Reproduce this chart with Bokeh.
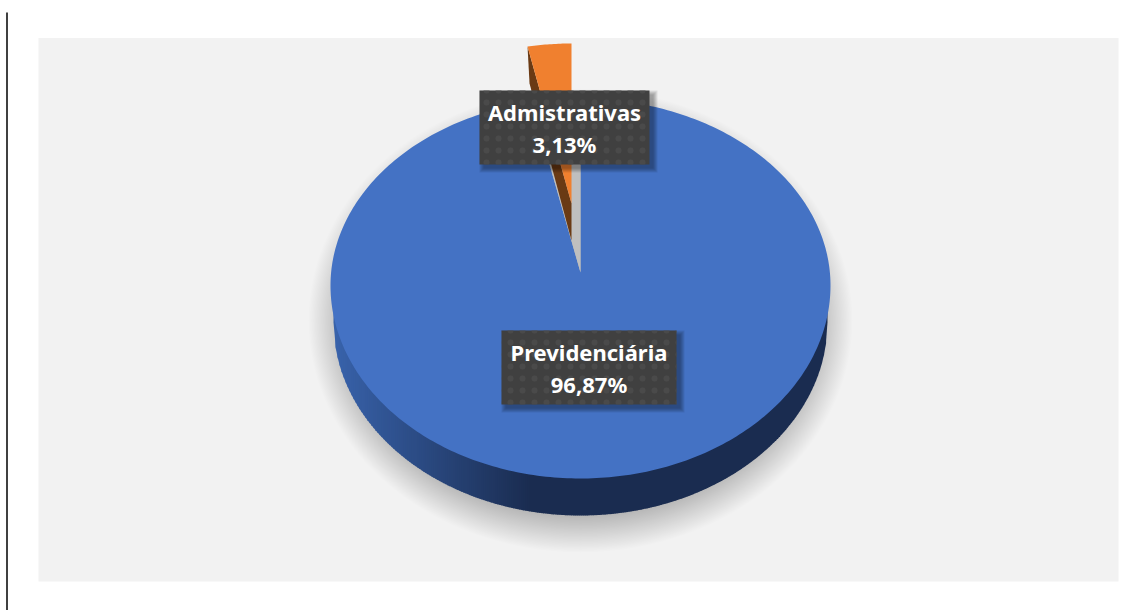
import math
from bokeh.plotting import figure
from bokeh.models import Range1d
from bokeh.core.properties import value
from bokeh.embed import file_html
from bokeh.resources import INLINE

# data
categories = ["Previdenciária", "Admistrativas"]
shares = [96.87, 3.13]
share_labels = ["96,87%", "3,13%"]
colors = ["#4472C4", "#F0802F"]

W, H = 1139, 610
p = figure(width=W, height=H, output_backend="svg", toolbar_location=None,
           x_range=Range1d(0, W), y_range=Range1d(H, 0), min_border=0,
           outline_line_color=None, background_fill_color="white", border_fill_color="white")
p.axis.visible = False
p.grid.visible = False
p.styles = {"position": "absolute", "left": "0px", "top": "0px"}

# frame
p.segment([6.5], [12], [6.5], [610], line_color="black", line_width=1.5)
p.quad(left=[38], right=[1118], top=[37.5], bottom=[581], fill_color="#F2F2F2", line_color=None)

# layout of the pie
cx, cy, rx, ry_up, ry_down = 580, 285, 250, 187, 193
apex_y = 272
depth = 37
wedge = shares[1] / 100 * 2 * math.pi


def ring(a0, a1, ccx, ccy, arx, up, down, n=360):
    xs, ys = [], []
    for i in range(n + 1):
        a = a0 + (a1 - a0) * i / n
        xs.append(ccx + arx * math.sin(a))
        c = math.cos(a)
        ys.append(ccy - (up if c > 0 else down) * c)
    return xs, ys


# soft shadow under the pie
layers = 30
for i in range(layers):
    t = i / (layers - 1)
    p.ellipse(x=[580], y=[320], width=[2 * (272 - 36 * t)], height=[2 * (232 - 36 * t)],
              fill_color="black", fill_alpha=0.0085, line_color=None)

# side wall with a left-to-right shade
low_cy, low_rx, low_ry = 322, 247, 193
c0, c1 = (0x38, 0x62, 0xAA), (0x1A, 0x2C, 0x50)


def low_y(x):
    u = max(0.0, 1 - ((x - cx) / low_rx) ** 2)
    return low_cy + low_ry * math.sqrt(u)


wx, wy, wc = [], [], []
x = cx - low_rx
while x < cx + low_rx:
    x2 = min(x + 2.6, cx + low_rx)
    t = min(1.0, max(0.0, (x + 1 - 335) / 195))
    wx.append([x, x2, x2, x])
    wy.append([cy, cy, low_y(x2), low_y(x)])
    wc.append("#%02x%02x%02x" % tuple(round(a + (b - a) * t) for a, b in zip(c0, c1)))
    x += 2
p.patches(xs=wx, ys=wy, fill_color=wc, line_color=None)

# top face of the main slice
bx, by = ring(0, 2 * math.pi - wedge, cx, cy, rx, ry_up, ry_down)
p.patch(bx + [cx], by + [apex_y], fill_color=colors[0], line_color=None)

# cut in the main slice (grey inner wall)
gx, gy = ring(2 * math.pi - wedge, 2 * math.pi, cx, cy, rx, ry_up, ry_down, 20)
p.patch(gx + [cx], gy + [apex_y], fill_color="#BFBFBF", line_color=None)

# exploded slice
ox, oy = 571, 203
orx, ory = 225, 160
fx, fy = ring(-wedge, 0, ox, oy, orx, ory, ory, 20)
p.patch([fx[0], fx[0] + 2, ox, ox], [fy[0], fy[0] + depth, oy + depth, oy],
        fill_color="#6A3A14", line_color=None)
p.patch(fx + [ox], fy + [oy], fill_color=colors[1], line_color=None)

# labels
boxes = {"Previdenciária": (501, 676, 330, 404), "Admistrativas": (479, 649, 90, 164)}
for cat, lab in zip(categories, share_labels):
    l, r, t, b = boxes[cat]
    for k in range(5):
        grow = 4 - k
        p.quad(left=[l + 4 - grow], right=[r + 4 + grow], top=[t + 4 - grow], bottom=[b + 4 + grow],
               fill_color="black", fill_alpha=0.08, line_color=None)
    p.quad(left=[l], right=[r], top=[t], bottom=[b], fill_color="#404040", line_color=None,
           hatch_pattern="dot", hatch_color="#4C4C4C", hatch_scale=12, hatch_alpha=0.8)
    mx = (l + r) / 2
    p.text(x=[mx, mx], y=[t + 21, t + 53], text=[cat, lab], text_color="white",
           text_font=value("Noto Sans"), text_font_style="bold", text_font_size="22px",
           text_align="center", text_baseline="middle")

open("out.html", "w").write(file_html(p, INLINE))
